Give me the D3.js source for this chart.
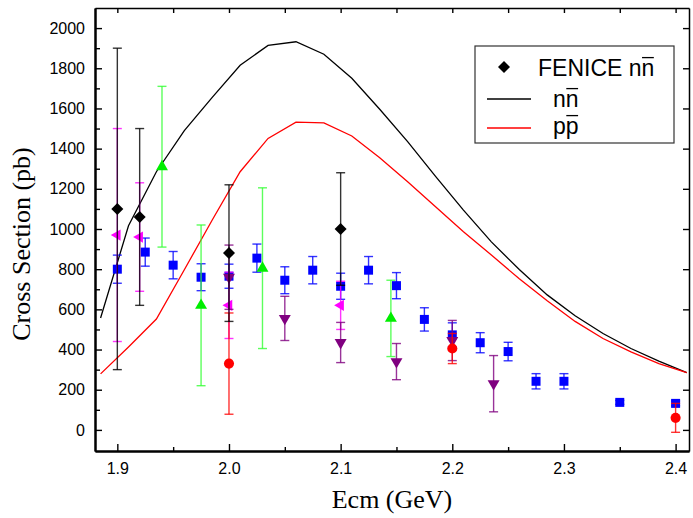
<!DOCTYPE html>
<html><head><meta charset="utf-8">
<script src="https://cdn.jsdelivr.net/npm/d3@7"></script>
<style>
body{margin:0;background:#fff}
svg{display:block}
.tick text{font-family:"Liberation Sans",Arial,sans-serif;font-size:16px;fill:#000}
</style>
</head><body>
<svg id="c" width="693" height="518"></svg>
<script>
// ---- data ----
const theoryE = [1.885, 1.91, 1.935, 1.96, 1.985, 2.01, 2.035, 2.06, 2.085, 2.11, 2.135, 2.16, 2.185, 2.21, 2.235, 2.26, 2.285, 2.31, 2.335, 2.36, 2.385, 2.41];
const nnbarTheory = [557, 1016, 1285, 1490, 1655, 1815, 1914, 1932, 1870, 1750, 1596, 1435, 1262, 1094, 936, 798, 672, 568, 480, 405, 342, 285];
const ppbarTheory = [279, 413, 552, 797, 1045, 1285, 1451, 1532, 1528, 1463, 1355, 1235, 1111, 986, 870, 752, 643, 540, 455, 388, 330, 285];

const feniceE   = [1.9, 1.92, 2.0, 2.1];
const feniceVal = [1100, 1060, 880, 1000];
const feniceErr = [800, 440, 340, 280];

const blueE   = [1.9, 1.925, 1.95, 1.975, 2.0, 2.025, 2.05, 2.075, 2.1, 2.125, 2.15, 2.175, 2.2, 2.225, 2.25, 2.275, 2.3, 2.35, 2.4];
const blueVal = [800, 885, 820, 760, 765, 855, 745, 795, 715, 795, 718, 550, 473, 434, 390, 242, 242, 137, 132];
const blueErr = [70, 70, 68, 67, 60, 70, 67, 68, 65, 68, 65, 58, 60, 50, 46, 38, 38, 10, 12];

const greenE   = [1.94, 1.975, 2.03, 2.145];
const greenVal = [1310, 620, 805, 555];
const greenErr = [400, 400, 400, 190];

const magentaE   = [1.9, 1.92, 2.0, 2.1];
const magentaVal = [970, 960, 620, 620];
const magentaErr = [530, 270, 165, 120];

const purpleE   = [2.0, 2.05, 2.1, 2.15, 2.2, 2.237];
const purpleVal = [760, 555, 435, 340, 445, 230];
const purpleErr = [160, 110, 100, 90, 100, 140];

const redE   = [2.0, 2.2, 2.4];
const redVal = [330, 405, 60];
const redErr = [252, 75, 72];

const xMajor = [1.9, 2.0, 2.1, 2.2, 2.3, 2.4];
const xMinor = [1.95, 2.05, 2.15, 2.25, 2.35];
const yMajor = [0, 200, 400, 600, 800, 1000, 1200, 1400, 1600, 1800, 2000];
const yMinor = [100, 300, 500, 700, 900, 1100, 1300, 1500, 1700, 1900];

const xTitle = "Ecm (GeV)";
const yTitle = "Cross Section (pb)";

// ---- layout ----
const L = 95, R = 689, T = 8, B = 451;
const svg = d3.select("#c");
const x = d3.scaleLinear().domain([1.88, 2.412]).range([L, R]);
const y = d3.scaleLinear().domain([-105, 2100]).range([B, T]);

const plot = svg.append("g");
svg.append("clipPath").attr("id","clip").append("rect").attr("x",L).attr("y",T).attr("width",R-L).attr("height",B-T);
const inner = plot.append("g").attr("clip-path","url(#clip)");

// curves
const line = d3.line().x(d=>x(d[0])).y(d=>y(d[1]));
inner.append("path").datum(d3.zip(theoryE, nnbarTheory)).attr("d", line)
  .attr("fill","none").attr("stroke","#000").attr("stroke-width",1.3);
inner.append("path").datum(d3.zip(theoryE, ppbarTheory)).attr("d", line)
  .attr("fill","none").attr("stroke","#ff0000").attr("stroke-width",1.3);

// series drawing
function series(E, V, Err, color, barColor, symType, size, rot) {
  const data = E.map((e,i)=>({e, v:V[i], err:Err[i]}));
  const g = inner.append("g");
  const eb = g.selectAll("g.eb").data(data).join("g").attr("stroke", barColor).attr("stroke-width",1.4).attr("stroke-opacity",0.8);
  eb.append("line").attr("x1",d=>x(d.e)).attr("x2",d=>x(d.e)).attr("y1",d=>y(d.v-d.err)).attr("y2",d=>y(d.v+d.err));
  eb.append("line").attr("x1",d=>x(d.e)-4.5).attr("x2",d=>x(d.e)+4.5).attr("y1",d=>y(d.v+d.err)).attr("y2",d=>y(d.v+d.err));
  eb.append("line").attr("x1",d=>x(d.e)-4.5).attr("x2",d=>x(d.e)+4.5).attr("y1",d=>y(d.v-d.err)).attr("y2",d=>y(d.v-d.err));
  return {g, data, color, symType, size, rot};
}
function markers(s) {
  const sym = d3.symbol().type(s.symType).size(s.size);
  s.g.selectAll("path.m").data(s.data).join("path").attr("class","m")
    .attr("d", sym())
    .attr("transform", d=>`translate(${x(d.e)},${y(d.v)}) rotate(${s.rot})`)
    .attr("fill", s.color).attr("stroke","none");
}
const sBlue = series(blueE, blueVal, blueErr, "#0000ff", "#0000ff", d3.symbolSquare, 81, 0);
const sGreen = series(greenE, greenVal, greenErr, "#00ee00", "#33ff33", d3.symbolTriangle, 62, 0);
const sMag = series(magentaE, magentaVal, magentaErr, "#ff00ff", "#ff00ff", d3.symbolTriangle, 55, -90);
const sPur = series(purpleE, purpleVal, purpleErr, "#800080", "#800080", d3.symbolTriangle, 62, 180);
const sRed = series(redE, redVal, redErr, "#ff0000", "#ff0000", d3.symbolCircle, 80, 0);
const sFen = series(feniceE, feniceVal, feniceErr, "#000000", "#000000", d3.symbolSquare, 72, 45);
[sBlue, sGreen, sMag, sPur, sRed, sFen].forEach(markers);

// ---- axes ----
function styleAxis(g, w) {
  g.select(".domain").attr("stroke","#000").attr("stroke-width",w);
  g.selectAll(".tick line").attr("stroke","#000").attr("stroke-width",1.4);
}
const ax = svg.append("g");
ax.append("g").attr("transform",`translate(0,${B})`)
  .call(d3.axisBottom(x).tickValues(xMinor).tickSize(-4).tickSizeOuter(0).tickFormat(""))
  .call(g=>styleAxis(g,2));
ax.append("g").attr("transform",`translate(0,${B})`)
  .call(d3.axisBottom(x).tickValues(xMajor).tickSize(-7).tickSizeOuter(0).tickPadding(12).tickFormat(d3.format(".1f")))
  .call(g=>styleAxis(g,2));
ax.append("g").attr("transform",`translate(0,${T})`)
  .call(d3.axisTop(x).tickValues(xMajor.concat(xMinor)).tickSize(-5).tickSizeOuter(0).tickFormat(""))
  .call(g=>styleAxis(g,1.5));
ax.append("g").attr("transform",`translate(${L},0)`)
  .call(d3.axisLeft(y).tickValues(yMinor).tickSize(-5).tickSizeOuter(0).tickFormat(""))
  .call(g=>styleAxis(g,2));
ax.append("g").attr("transform",`translate(${L},0)`)
  .call(d3.axisLeft(y).tickValues(yMajor).tickSize(-7).tickSizeOuter(0).tickPadding(10).tickFormat(d3.format("d")))
  .call(g=>styleAxis(g,2));
ax.append("g").attr("transform",`translate(${R},0)`)
  .call(d3.axisRight(y).tickValues(yMajor).tickSize(-6).tickSizeOuter(0).tickFormat(""))
  .call(g=>styleAxis(g,1.5));

// titles
svg.append("text").attr("x", (L+R)/2).attr("y", 508).attr("text-anchor","middle")
  .attr("font-family","'Liberation Serif','Times New Roman',serif").attr("font-size",26).text(xTitle);
svg.append("text").attr("transform",`translate(30,244) rotate(-90)`).attr("text-anchor","middle")
  .attr("font-family","'Liberation Serif','Times New Roman',serif").attr("font-size",26).text(yTitle);

// ---- legend ----
const FS = 23;
const lg = svg.append("g").attr("font-family","'Liberation Sans',Arial,sans-serif").attr("font-size",FS);
lg.append("rect").attr("x",475).attr("y",46).attr("width",199).attr("height",97)
  .attr("fill","#fff").attr("stroke","#333").attr("stroke-width",1.2);
lg.append("path").attr("d", d3.symbol().type(d3.symbolSquare).size(72)())
  .attr("transform","translate(504,67) rotate(45)").attr("fill","#000");
function legText(tx, ty, a, b) {
  const t = lg.append("text").attr("x",tx).attr("y",ty);
  const ta = t.append("tspan").text(a);
  const tb = t.append("tspan").text(b);
  const wa = ta.node().getComputedTextLength();
  const wb = tb.node().getComputedTextLength();
  const oy = ty - 0.8 * FS;
  lg.append("line").attr("x1", tx + wa + 0.5).attr("x2", tx + wa + wb - 0.5)
    .attr("y1", oy).attr("y2", oy).attr("stroke","#000").attr("stroke-width",1.3);
}
legText(538, 76, "FENICE n", "n");
lg.append("line").attr("x1",487).attr("x2",531).attr("y1",99).attr("y2",99).attr("stroke","#000").attr("stroke-width",1.3);
legText(553, 107, "n", "n");
lg.append("line").attr("x1",487).attr("x2",531).attr("y1",128).attr("y2",128).attr("stroke","#ff0000").attr("stroke-width",1.3);
legText(553, 134, "p", "p");
</script>
</body></html>
